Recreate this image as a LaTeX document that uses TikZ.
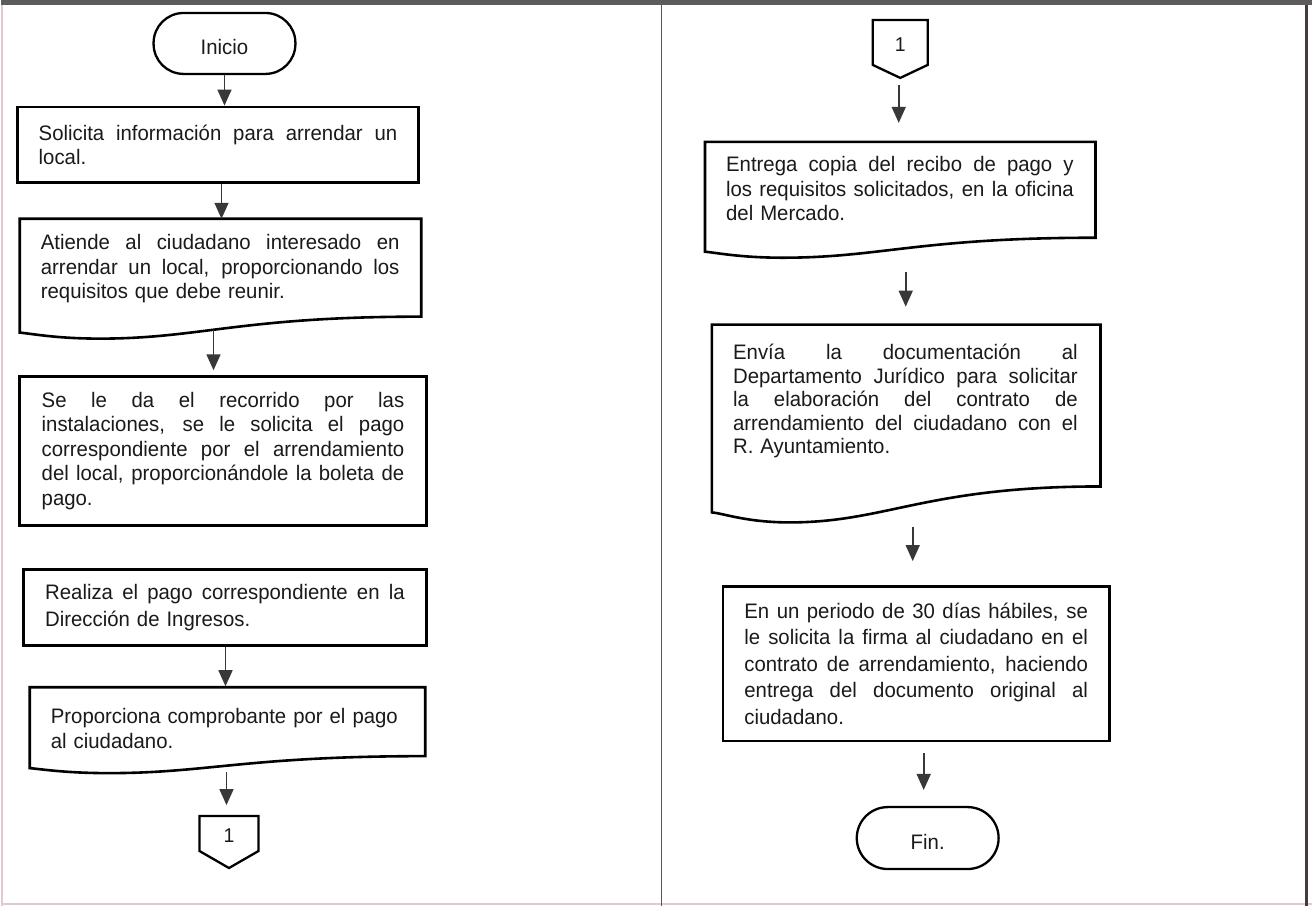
\documentclass[tikz,border=0pt]{standalone}
\usepackage{fontspec}
\setmainfont[FakeStretch=0.97]{Liberation Sans}
\usetikzlibrary{arrows.meta,calc}
\definecolor{ink}{HTML}{1A1A1A}
\definecolor{arrgray}{HTML}{383838}
\definecolor{barcol}{HTML}{5C5C5C}
\definecolor{edgepink}{HTML}{E2C8CF}
\definecolor{edgedark}{HTML}{4A3A40}
\definecolor{divcol}{HTML}{555555}
\newcommand{\jline}[1]{\leavevmode\hbox to \hsize{\spaceskip=0.27em plus 1fil\relax #1}\\}
\newcommand{\docshape}[6]{% L R T rb lb low
  \draw[docline] (#1,#3) -- (#2,#3) -- (#2,#4)
    .. controls ({#1+0.55*(#2-#1)},#4) and ({#1+0.45*(#2-#1)},#6) .. ({#1+0.2*(#2-#1)},#6)
    .. controls ({#1+0.09*(#2-#1)},#6) and ({#1+0.03*(#2-#1)},{#5+1}) .. (#1,#5) -- cycle;}
\begin{document}
\begin{tikzpicture}[x=1pt,y=-1pt,
  every node/.style={font=\fontsize{21}{24.5}\selectfont, text=ink},
  procbox/.style={draw=black, line width=2.6pt, inner xsep=0pt, inner ysep=0pt, align=left},
  doctext/.style={inner sep=0pt, align=left, anchor=base west},
  docline/.style={draw=black, line width=2.6pt, line join=miter},
  term/.style={draw=black, line width=2.3pt, rounded corners=30pt, minimum width=142pt, minimum height=61pt, inner sep=0pt, text height=22pt, text depth=0pt},
  connline/.style={draw=black, line width=2.3pt, line join=miter},
  arr/.style={draw=arrgray, line width=1.6pt, -{Triangle[width=14pt,length=16pt]}}
]
% page frame
\fill[white] (0,0) rectangle (1313,907);
\fill[barcol] (0,0) rectangle (1313,5);
\draw[edgepink, line width=2pt] (1.5,5) -- (1.5,907);
\draw[edgepink, line width=1.5pt] (0,905) -- (1313,905);
\draw[edgedark, line width=3pt] (1307.5,5) -- (1307.5,907);
\draw[divcol, line width=1.6pt] (661.5,5) -- (661.5,907);

% ---------- left column ----------
\node[term] (start) at (224,43.5) {Inicio};

\node[procbox, minimum width=401pt, minimum height=76pt, text width=359pt] (b1) at (217.5,145)
  {\jline{Solicita información para arrendar un}local.};

\docshape{19}{421}{219}{317}{333}{339}
\node[doctext, text width=359pt] (d2) at (40,250)
  {\jline{Atiende al ciudadano interesado en}\jline{arrendar un local, proporcionando los}requisitos que debe reunir.};
\coordinate (d2in) at (221,219);
\coordinate (d2out) at (213,330);

\node[procbox, minimum width=407pt, minimum height=149pt, text width=363pt] (b3) at (222.5,451.5)
  {\jline{Se le da el recorrido por las}\jline{instalaciones, se le solicita el pago}\jline{correspondiente por el arrendamiento}\jline{del local, proporcionándole la boleta de}pago.};

\node[procbox, minimum width=403pt, minimum height=76pt, text width=360pt, font=\fontsize{21}{27}\selectfont] (b4) at (224.5,608)
  {\jline{Realiza el pago correspondiente en la}Dirección de Ingresos.};

\docshape{29}{425}{688}{757}{769}{774}
\node[doctext, text width=354pt, font=\fontsize{21}{25}\selectfont] (d5) at (50,724)
  {Proporciona comprobante por el pago\\al ciudadano.};
\coordinate (d5in) at (225,688);
\coordinate (d5out) at (226,765);

\draw[connline] (199,817) -- (258,817) -- (258,852) -- (228.5,869) -- (199,852) -- cycle;
\node (c1) at (228.5,837) {\fontsize{20}{24}\selectfont 1};
\coordinate (c1top) at (228.5,817);

% ---------- right column ----------
\draw[connline] (873,20) -- (928,20) -- (928,65) -- (900.5,78) -- (873,65) -- cycle;
\node (c2) at (900.5,45) {\fontsize{20}{24}\selectfont 1};
\coordinate (c2tip) at (899,78);

\docshape{705}{1096}{142}{238}{252}{258}
\node[doctext, text width=348pt] (r1) at (726,172)
  {\jline{Entrega copia del recibo de pago y}\jline{los requisitos solicitados, en la oficina}del Mercado.};
\coordinate (r1in) at (899,142);
\coordinate (r1out) at (906,248);

\docshape{712}{1101}{325}{487}{513}{523}
\node[doctext, text width=345pt, font=\fontsize{21}{23.5}\selectfont] (r2) at (733,360)
  {\jline{Envía la documentación al}\jline{Departamento Jurídico para solicitar}\jline{la elaboración del contrato de}\jline{arrendamiento del ciudadano con el}R. Ayuntamiento.};
\coordinate (r2in) at (906,325);
\coordinate (r2out) at (913,505);

\node[procbox, minimum width=387pt, minimum height=155pt, text width=344pt, font=\fontsize{21}{26.5}\selectfont] (r3) at (916.5,664.5)
  {\jline{En un periodo de 30 días hábiles, se}\jline{le solicita la firma al ciudadano en el}\jline{contrato de arrendamiento, haciendo}\jline{entrega del documento original al}ciudadano.};

\node[term, minimum height=62pt, rounded corners=31pt] (fin) at (928,839) {Fin.};

% ---------- connectors ----------
\draw[arr] (start.south) -- (start.south |- b1.north);
\draw[arr] (d2in |- b1.south) -- (d2in);
\draw[arr, shorten >=5pt] (d2out) -- (d2out |- b3.north);
\draw[arr, shorten >=1pt] (d5in |- b4.south) -- (d5in);
\draw[arr, shorten <=8pt, shorten >=11pt] (d5out) -- (d5out |- c1top);
\draw[arr, shorten <=7pt, shorten >=19pt] (c2tip) -- (r1in);
\draw[arr, shorten <=24pt, shorten >=18pt] (r1out) -- (r2in);
\draw[arr, shorten <=23pt, shorten >=24pt] (r2out) -- (r2out |- r3.north);
\draw[arr, shorten <=11pt, shorten >=16pt] ([xshift=-4pt]fin.north |- r3.south) -- ([xshift=-4pt]fin.north);
\end{tikzpicture}
\end{document}
